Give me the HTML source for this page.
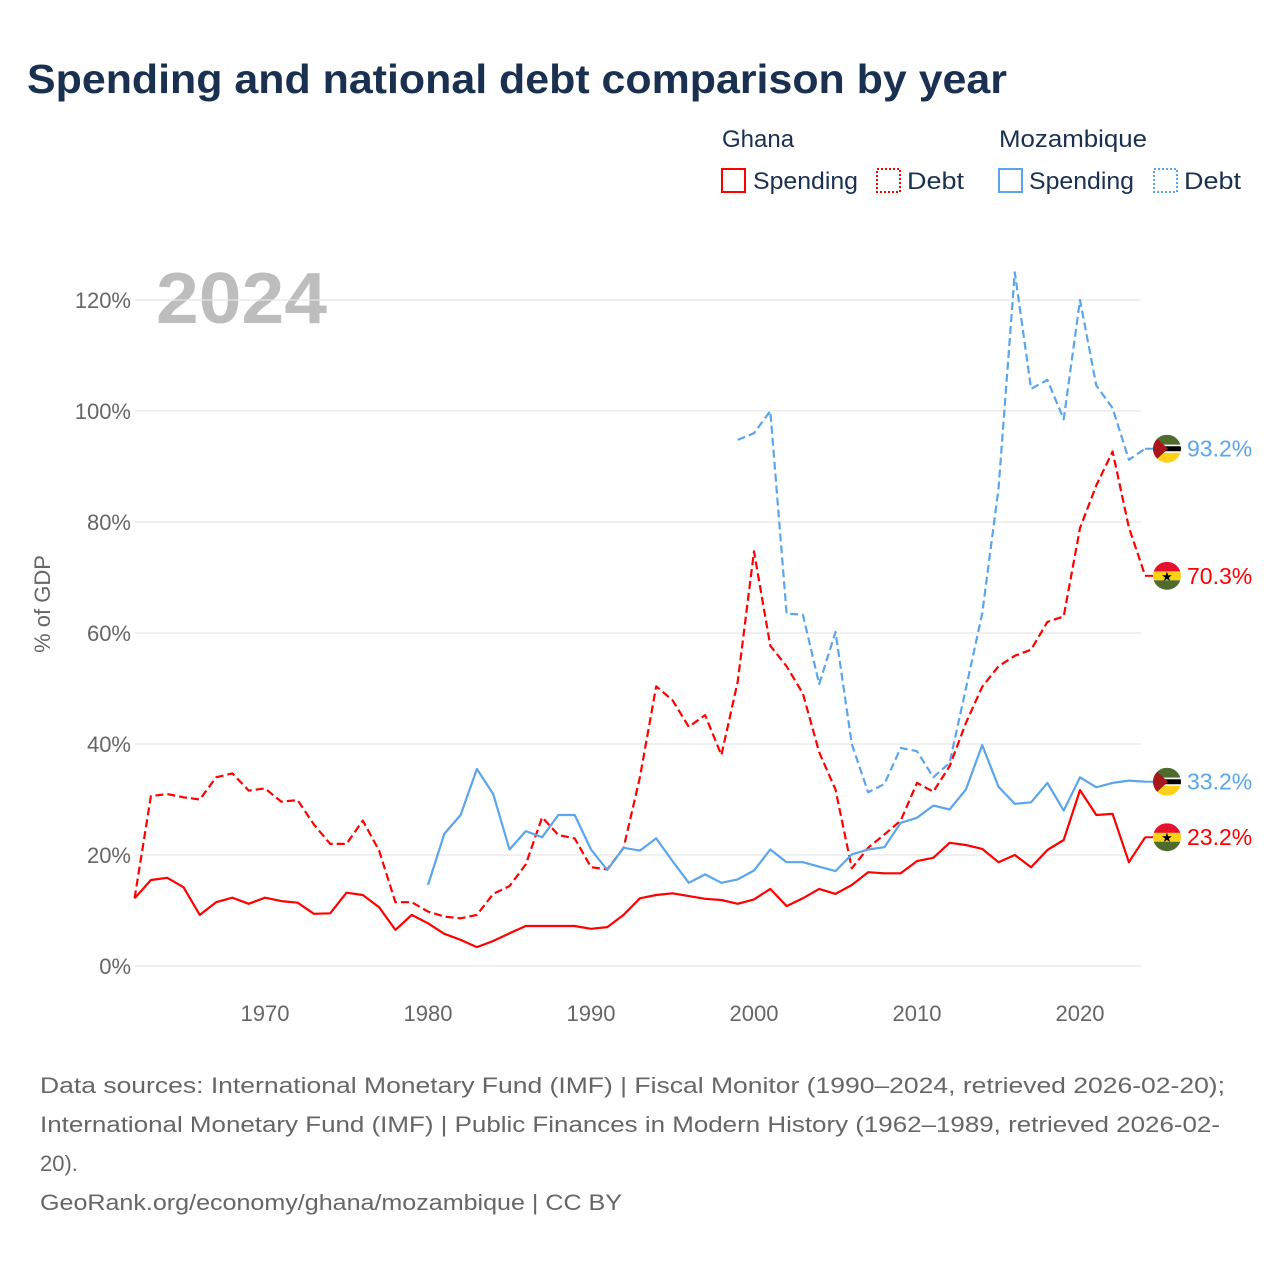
<!DOCTYPE html>
<html><head><meta charset="utf-8"><style>
html,body{margin:0;padding:0;background:#fff;}
svg{display:block;font-family:"Liberation Sans",sans-serif;}
</style></head><body>
<svg id="chart" width="1280" height="1280" viewBox="0 0 1280 1280">
<text x="27" y="93" font-size="41" font-weight="bold" fill="#1a3050" textLength="980" lengthAdjust="spacingAndGlyphs">Spending and national debt comparison by year</text>
<g fill="#1a3050" font-size="24">
<text x="722" y="147">Ghana</text>
<text x="999" y="147" textLength="148" lengthAdjust="spacingAndGlyphs">Mozambique</text>
<g><rect x="722" y="169" width="23" height="23" fill="none" stroke="#f00" stroke-width="2"/><text x="753" y="189" textLength="105" lengthAdjust="spacingAndGlyphs">Spending</text></g>
<g><rect x="877" y="169" width="23" height="23" fill="none" stroke="#f00" stroke-width="2" stroke-dasharray="2,2"/><text x="907" y="189" textLength="57" lengthAdjust="spacingAndGlyphs">Debt</text></g>
<g><rect x="999" y="169" width="23" height="23" fill="none" stroke="#5aa5ec" stroke-width="2"/><text x="1029" y="189" textLength="105" lengthAdjust="spacingAndGlyphs">Spending</text></g>
<g><rect x="1154" y="169" width="23" height="23" fill="none" stroke="#5aa5ec" stroke-width="2" stroke-dasharray="2,2"/><text x="1184" y="189" textLength="57" lengthAdjust="spacingAndGlyphs">Debt</text></g>
</g>
<text x="156" y="323" font-size="72" font-weight="bold" fill="#bdbdbd" textLength="171" lengthAdjust="spacingAndGlyphs">2024</text>
<text transform="translate(50,604) rotate(-90)" text-anchor="middle" font-size="22" fill="#666">% of GDP</text>
<g id="grid"></g><g id="series"></g><g id="ends"></g>
<g fill="#666" font-size="22">
<text x="40" y="1093" textLength="1185" lengthAdjust="spacingAndGlyphs">Data sources: International Monetary Fund (IMF) | Fiscal Monitor (1990–2024, retrieved 2026-02-20);</text>
<text x="40" y="1132" textLength="1180" lengthAdjust="spacingAndGlyphs">International Monetary Fund (IMF) | Public Finances in Modern History (1962–1989, retrieved 2026-02-</text>
<text x="40" y="1171">20).</text>
<text x="40" y="1210" textLength="582" lengthAdjust="spacingAndGlyphs">GeoRank.org/economy/ghana/mozambique | CC BY</text>
</g>
</svg>
<script>
const yTicks = [0,20,40,60,80,100,120];
const xTicks = [1970,1980,1990,2000,2010,2020];
const ghanaStart = 1962;
const ghanaSpending = [12.2,15.5,15.9,14.2,9.2,11.5,12.3,11.2,12.3,11.7,11.4,9.4,9.5,13.2,12.8,10.6,6.5,9.2,7.7,5.8,4.7,3.4,4.5,5.9,7.2,7.2,7.2,7.2,6.7,7.0,9.2,12.2,12.8,13.1,12.6,12.1,11.9,11.2,12.0,13.9,10.8,12.2,13.9,13.0,14.6,16.9,16.7,16.7,18.9,19.5,22.2,21.8,21.1,18.7,20.0,17.8,20.9,22.7,31.7,27.2,27.4,18.7,23.2];
const ghanaDebt = [12.2,30.6,31.0,30.4,30.0,34.0,34.7,31.6,32.0,29.6,29.9,25.5,22.0,22.0,26.2,20.8,11.5,11.5,9.8,8.9,8.6,9.2,13.0,14.4,18.3,26.8,23.6,23.0,17.8,17.4,21.3,34.0,50.4,47.9,43.1,45.2,38.0,51.2,74.7,57.7,54.0,49.1,38.5,31.8,17.6,21.3,23.7,26.2,33.0,31.4,36.0,43.8,50.3,54.0,55.9,57.0,62.0,63.0,78.9,86.6,92.7,79.0,70.3];
const mozSpendingStart = 1980;
const mozSpending = [14.6,23.8,27.2,35.5,31.0,21.0,24.3,23.2,27.2,27.2,21.0,17.3,21.3,20.8,23.0,18.9,15.0,16.5,15.0,15.6,17.2,21.0,18.7,18.7,17.9,17.1,20.1,21.0,21.4,25.8,26.7,28.9,28.2,31.8,39.8,32.3,29.2,29.5,33.0,28.0,34.0,32.2,33.0,33.4,33.2];
const mozDebtStart = 1999;
const mozDebt = [94.8,96.0,100.0,63.5,63.3,50.8,60.2,40.0,31.3,32.8,39.3,38.7,34.0,36.6,50.0,63.5,86.0,125.0,104.0,105.6,98.5,120.0,104.6,100.5,91.2,93.2];

const NS='http://www.w3.org/2000/svg';
const xS = yr => 265 + (yr-1970)*16.3;
const yS = v => 966 - v*5.55;
function mk(tag, attrs, parent){const e=document.createElementNS(NS,tag);for(const k in attrs)e.setAttribute(k,attrs[k]);parent.appendChild(e);return e;}
const grid=document.getElementById('grid');
yTicks.forEach(t=>{
  const l=mk('line',{x1:135,x2:1141,y1:yS(t),y2:yS(t),stroke:'#e6e6e6','stroke-width':1.3},grid);
  
  
  const tx=mk('text',{x:131,y:yS(t)+8,'text-anchor':'end','font-size':22,fill:'#666'},grid);
  tx.textContent=t+'%';
  
  
});
xTicks.forEach(t=>{
  const tx=mk('text',{x:xS(t),y:1021,'text-anchor':'middle','font-size':22,fill:'#666'},grid);
  tx.textContent=t;
  
  
});
const ser=document.getElementById('series');
function line(vals,start,color,dash,name){
  const d=vals.map((v,i)=>(i?'L':'M')+xS(start+i).toFixed(1)+','+yS(v).toFixed(1)).join('');
  const p=mk('path',{d:d,fill:'none',stroke:color,'stroke-width':2.2,'stroke-linejoin':'round'},ser);
  if(dash)p.setAttribute('stroke-dasharray','8,4');
  
  
}
line(ghanaDebt,ghanaStart,'#ff0000',true,'ghana-debt-line');
line(mozDebt,mozDebtStart,'#5aa5ec',true,'mozambique-debt-line');
line(mozSpending,mozSpendingStart,'#5aa5ec',false,'mozambique-spending-line');
line(ghanaSpending,ghanaStart,'#ff0000',false,'ghana-spending-line');

const ends=document.getElementById('ends');
let cid=0;
function flag(country,v,color,name){
  const cx=1167, cy=yS(v);
  const g=mk('g',{},ends);
  
  
  mk('line',{x1:1145,x2:1153,y1:cy,y2:cy,stroke:color,'stroke-width':2},g);
  const id='c'+(cid++);
  const cp=mk('clipPath',{id:id},g);
  mk('circle',{cx:cx,cy:cy,r:14},cp);
  const f=mk('g',{'clip-path':'url(#'+id+')'},g);
  if(country==='ghana'){
    mk('rect',{x:cx-14,y:cy-14,width:28,height:10,fill:'#e8112d'},f);
    mk('rect',{x:cx-14,y:cy-4.5,width:28,height:9,fill:'#fcd116'},f);
    mk('rect',{x:cx-14,y:cy+4.5,width:28,height:10,fill:'#4f6b2e'},f);
    const s=mk('text',{x:cx,y:cy+5,'text-anchor':'middle','font-size':13,fill:'#000'},f);s.textContent='★';
  } else {
    mk('rect',{x:cx-14,y:cy-14,width:28,height:10,fill:'#4e6b2e'},f);
    mk('rect',{x:cx-14,y:cy-4,width:28,height:8,fill:'#fff'},f);
    mk('rect',{x:cx-14,y:cy-2.5,width:28,height:5,fill:'#000'},f);
    mk('rect',{x:cx-14,y:cy+4,width:28,height:10,fill:'#fcd116'},f);
    mk('polygon',{points:(cx-14)+','+(cy-14)+' '+(cx+1)+','+cy+' '+(cx-14)+','+(cy+14),fill:'#a8171c'},f);
  }
  const t=mk('text',{x:1187,y:cy+8,'font-size':23,fill:color},g);
  t.textContent=v.toFixed(1)+'%';
}
flag('moz',mozDebt[mozDebt.length-1],'#5aa5ec','mozambique-debt-end-label');
flag('ghana',ghanaDebt[ghanaDebt.length-1],'#ff0000','ghana-debt-end-label');
flag('moz',mozSpending[mozSpending.length-1],'#5aa5ec','mozambique-spending-end-label');
flag('ghana',ghanaSpending[ghanaSpending.length-1],'#ff0000','ghana-spending-end-label');
</script>
</body></html>
